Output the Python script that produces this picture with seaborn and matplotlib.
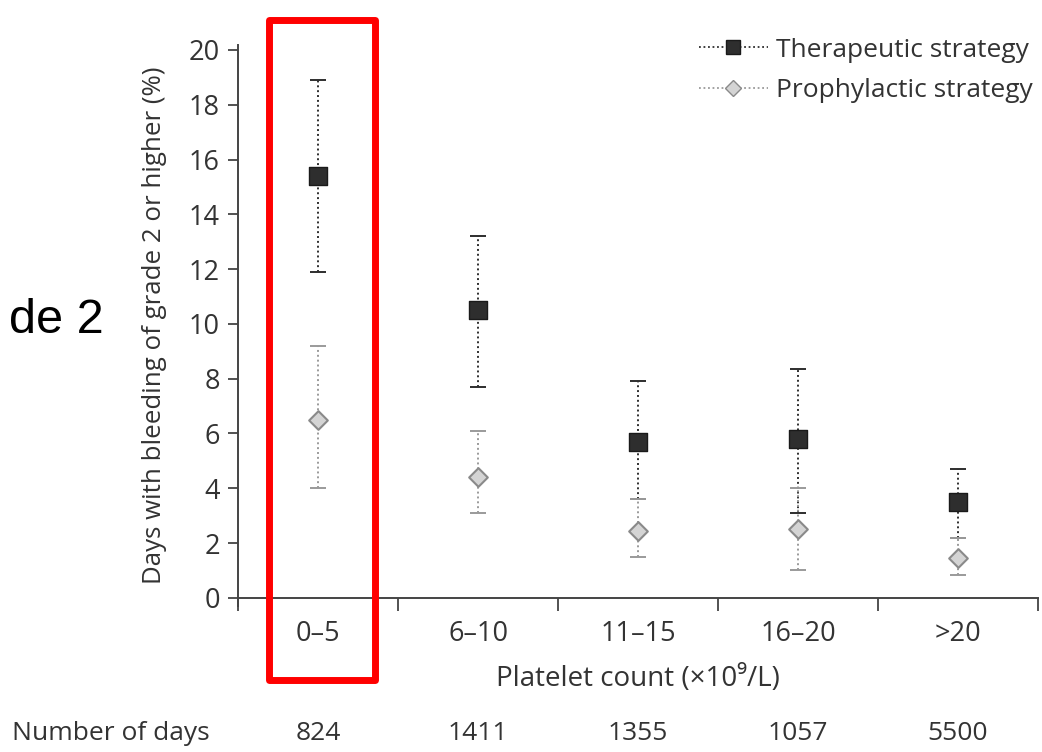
import numpy as np
import pandas as pd
import matplotlib
matplotlib.use("Agg")
import matplotlib.pyplot as plt
from matplotlib.lines import Line2D
from matplotlib.patches import Rectangle
import matplotlib.transforms as mtransforms
import seaborn as sns

# ---------------- data ----------------
categories = ["0\u20135", "6\u201310", "11\u201315", "16\u201320", ">20"]
ther_mid = [15.4, 10.5, 5.7, 5.8, 3.5]
ther_lo = [11.9, 7.7, 3.6, 3.1, 2.2]
ther_hi = [18.9, 13.2, 7.9, 8.35, 4.7]
proph_mid = [6.5, 4.4, 2.45, 2.5, 1.45]
proph_lo = [4.0, 3.1, 1.5, 1.0, 0.85]
proph_hi = [9.2, 6.1, 3.6, 4.0, 2.2]
number_of_days = ["824", "1411", "1355", "1057", "5500"]
yticks = list(range(0, 21, 2))
series_names = ["Therapeutic strategy", "Prophylactic strategy"]

# ---------------- style ----------------
sns.set_theme(style="white")
plt.rcParams["font.family"] = ["Open Sans", "DejaVu Sans"]
TXT = "#333333"
FS = 19.5
DARK = "#2e2e2e"
LIGHT = "#9a9a9a"

W, H = 1042, 752
fig = plt.figure(figsize=(W / 100, H / 100), dpi=100)
ax = fig.add_axes([238 / W, 1 - 606 / H, 800 / W, (606 - 44.5) / H])

df_t = pd.DataFrame({"cat": categories, "val": ther_mid})
df_p = pd.DataFrame({"cat": categories, "val": proph_mid})

pos = np.arange(len(categories))
# error bars (dotted)
for mid, lo, hi, col in [(ther_mid, ther_lo, ther_hi, DARK), (proph_mid, proph_lo, proph_hi, LIGHT)]:
    mid = np.array(mid); lo = np.array(lo); hi = np.array(hi)
    eb = ax.errorbar(pos, mid, yerr=[mid - lo, hi - mid], fmt="none", ecolor=col,
                     elinewidth=1.4, capsize=6, capthick=1.4, zorder=2)
    for lc in eb[2]:
        lc.set_linestyle((0, (1, 1.5)))

sns.stripplot(data=df_p, x="cat", y="val", order=categories, jitter=False, marker="D",
              size=9.5, color="#d4d4d4", edgecolor="#8a8a8a", linewidth=1.5, ax=ax, zorder=3)
sns.stripplot(data=df_t, x="cat", y="val", order=categories, jitter=False, marker="s",
              size=12.5, color=DARK, edgecolor="#1a1a1a", linewidth=1, ax=ax, zorder=4)

ax.set_xlim(-0.5, len(categories) - 0.5)
ax.set_ylim(-0.3, 20.2)
ax.set_yticks(yticks)
ax.set_yticklabels([str(v) for v in yticks])
ax.set_xticks(pos)
ax.set_xticklabels(categories)
ax.set_xticks(np.arange(-0.5, len(categories)), minor=True)

for s in ["top", "right"]:
    ax.spines[s].set_visible(False)
ax.spines["bottom"].set_position(("data", 0))
for s in ["left", "bottom"]:
    ax.spines[s].set_color("#444444")
    ax.spines[s].set_linewidth(1.4)

ax.tick_params(axis="y", which="major", direction="out", length=7, width=1.3,
               color="#444444", labelsize=FS, labelcolor=TXT, pad=6, left=True)
ax.tick_params(axis="x", which="major", length=0, labelsize=FS, labelcolor=TXT, pad=16, bottom=True)
ax.tick_params(axis="x", which="minor", direction="out", length=9, width=1.3,
               color="#444444", bottom=True)

ax.set_xlabel("Platelet count (\u00d710\u2079/L)", fontsize=20, color=TXT, labelpad=12)
ax.set_ylabel("Days with bleeding of grade 2 or higher (%)", fontsize=18.6, color=TXT, labelpad=16)
ax.grid(False)

# legend
handles = [
    Line2D([], [], color=DARK, linestyle=(0, (1, 1.5)), linewidth=1.3, marker="s",
           markersize=10, markerfacecolor=DARK, markeredgecolor="#1a1a1a"),
    Line2D([], [], color=LIGHT, linestyle=(0, (1, 1.5)), linewidth=1.3, marker="D",
           markersize=8, markerfacecolor="#d4d4d4", markeredgecolor="#8a8a8a"),
]
leg = fig.legend(handles, series_names, loc="upper right", bbox_to_anchor=(1.006, 0.971),
                 frameon=False, fontsize=19, handlelength=2.6, handletextpad=0.3,
                 labelspacing=0.6, borderaxespad=0.2)
for t in leg.get_texts():
    t.set_color(TXT)

# number of days row
trans = mtransforms.blended_transform_factory(ax.transData, fig.transFigure)
fig.text(12 / W, 1 - 740 / H, "Number of days", fontsize=19, color=TXT, ha="left", va="baseline")
for i, n in enumerate(number_of_days):
    ax.text(pos[i], 1 - 740 / H, n, transform=trans, fontsize=19, color=TXT,
            ha="center", va="baseline", clip_on=False)

# partial slide text at left
fig.text(104 / W, 1 - 333 / H, "de 2", fontsize=35, color="black",
         family="Liberation Sans", ha="right", va="baseline")

# red highlight box
fig.patches.append(Rectangle((268.5 / W, 1 - 680 / H), (375 - 268.5) / W, (680 - 19.5) / H,
                             transform=fig.transFigure, fill=False, edgecolor="#ff0000",
                             linewidth=5.0, joinstyle="round", zorder=10))

fig.savefig("out.png", dpi=100)
